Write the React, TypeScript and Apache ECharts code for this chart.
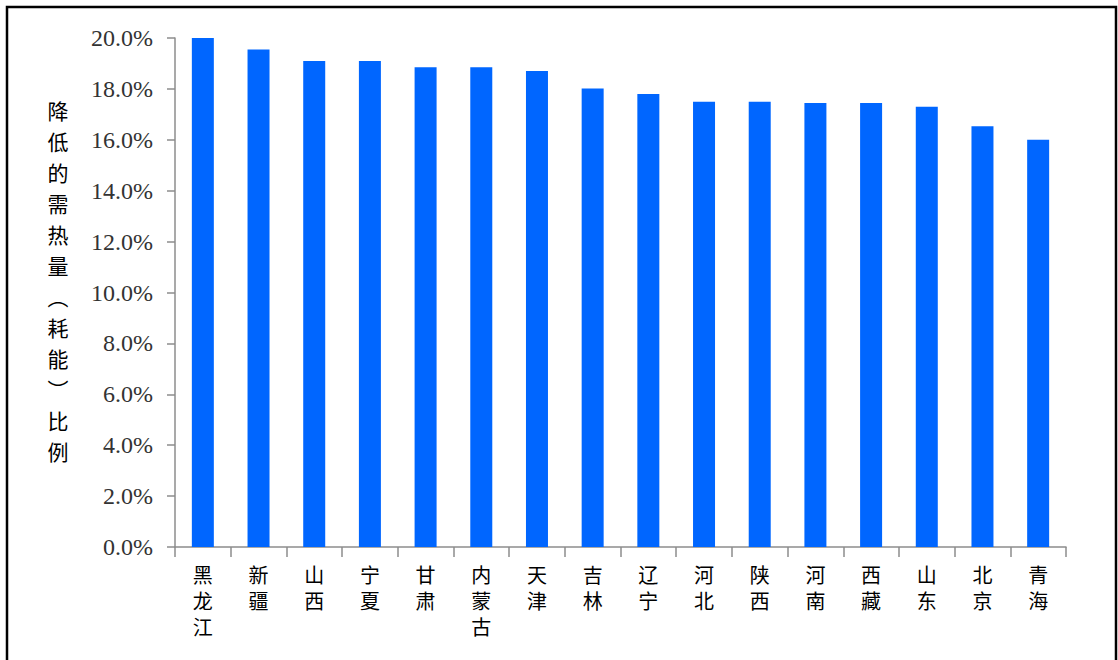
import React, { useEffect, useRef } from "react";
import * as echarts from "echarts";

const categories = ["黑龙江", "新疆", "山西", "宁夏", "甘肃", "内蒙古", "天津", "吉林", "辽宁", "河北", "陕西", "河南", "西藏", "山东", "北京", "青海"];
const values = [20.0, 19.55, 19.1, 19.1, 18.85, 18.85, 18.7, 18.02, 17.8, 17.5, 17.5, 17.45, 17.45, 17.3, 16.53, 16.0];
const yAxisTitle = ["降", "低", "的", "需", "热", "量", "︵", "耗", "能", "︶", "比", "例"];

export default function App() {
  const ref = useRef<HTMLDivElement>(null);
  useEffect(() => {
    if (!ref.current) return;
    const chart = echarts.init(ref.current, null, { renderer: "svg" });
    chart.setOption({
      animation: false,
      backgroundColor: "#ffffff",
      grid: { left: 175, right: 52, top: 38, bottom: 113, containLabel: false },
      xAxis: {
        type: "category",
        data: categories,
        axisLine: { lineStyle: { color: "#8c8c8c", width: 1.5 } },
        axisTick: { show: true, length: 10, lineStyle: { color: "#8c8c8c", width: 1.5 } },
        axisLabel: {
          interval: 0,
          margin: 14,
          color: "#000000",
          fontSize: 20,
          lineHeight: 26,
          fontFamily: "Noto Sans CJK SC",
          formatter: (v: string) => v.split("").join("\n"),
        },
      },
      yAxis: {
        type: "value",
        min: 0,
        max: 20,
        interval: 2,
        axisLine: { show: true, lineStyle: { color: "#8c8c8c", width: 1.5 } },
        axisTick: { show: true, length: 8, lineStyle: { color: "#8c8c8c", width: 1.5 } },
        splitLine: { show: false },
        axisLabel: {
          margin: 22,
          color: "#333333",
          fontSize: 24,
          fontFamily: "Liberation Serif",
          formatter: (v: number) => v.toFixed(1) + "%",
        },
      },
      series: [
        {
          type: "bar",
          data: values,
          barWidth: 22,
          itemStyle: { color: "#0066ff" },
        },
      ],
      graphic: [
        {
          type: "text",
          x: 58,
          y: 94,
          style: {
            text: yAxisTitle.join("\n"),
            fontSize: 21,
            lineHeight: 31,
            fontFamily: "Noto Sans CJK SC",
            fill: "#000000",
            align: "center",
            verticalAlign: "top",
          },
        },
        {
          type: "rect",
          shape: { x: 7, y: 7, width: 1109, height: 700 },
          style: { fill: "none", stroke: "#000000", lineWidth: 2.5 },
          silent: true,
        },
      ],
    });
    return () => chart.dispose();
  }, []);
  return (
    <div
      ref={ref}
      style={{ position: "fixed", left: 0, top: 0, width: 1118, height: 660 }}
    />
  );
}
